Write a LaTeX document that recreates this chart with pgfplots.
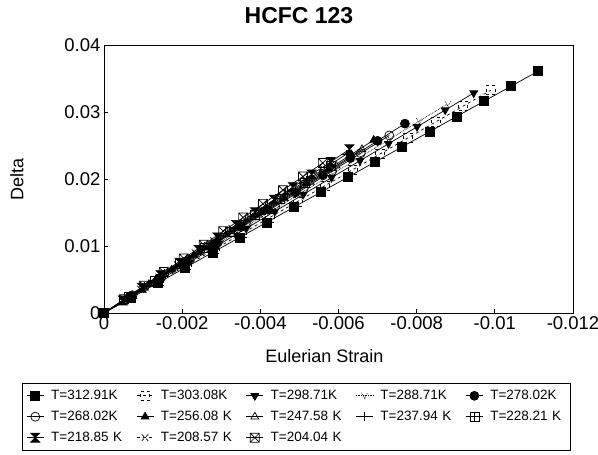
\documentclass[border=0pt]{standalone}
\usepackage{fontspec}
\setmainfont{Liberation Sans}
\usepackage{pgfplots}
\pgfplotsset{compat=1.18}

% extra marks for the legend symbols
\pgfdeclareplotmark{hourglass}{%
  \pgfpathmoveto{\pgfqpoint{-\pgfplotmarksize}{\pgfplotmarksize}}%
  \pgfpathlineto{\pgfqpoint{\pgfplotmarksize}{\pgfplotmarksize}}%
  \pgfpathlineto{\pgfqpoint{-\pgfplotmarksize}{-\pgfplotmarksize}}%
  \pgfpathlineto{\pgfqpoint{\pgfplotmarksize}{-\pgfplotmarksize}}%
  \pgfpathclose\pgfusepathqfillstroke}
\pgfdeclareplotmark{boxplus}{%
  \pgfpathrectangle{\pgfqpoint{-\pgfplotmarksize}{-\pgfplotmarksize}}{\pgfqpoint{2\pgfplotmarksize}{2\pgfplotmarksize}}%
  \pgfpathmoveto{\pgfqpoint{-\pgfplotmarksize}{0pt}}\pgfpathlineto{\pgfqpoint{\pgfplotmarksize}{0pt}}%
  \pgfpathmoveto{\pgfqpoint{0pt}{-\pgfplotmarksize}}\pgfpathlineto{\pgfqpoint{0pt}{\pgfplotmarksize}}%
  \pgfusepathqstroke}
\pgfdeclareplotmark{boxtimes}{%
  \pgfpathrectangle{\pgfqpoint{-\pgfplotmarksize}{-\pgfplotmarksize}}{\pgfqpoint{2\pgfplotmarksize}{2\pgfplotmarksize}}%
  \pgfpathmoveto{\pgfqpoint{-\pgfplotmarksize}{-\pgfplotmarksize}}\pgfpathlineto{\pgfqpoint{\pgfplotmarksize}{\pgfplotmarksize}}%
  \pgfpathmoveto{\pgfqpoint{-\pgfplotmarksize}{\pgfplotmarksize}}\pgfpathlineto{\pgfqpoint{\pgfplotmarksize}{-\pgfplotmarksize}}%
  \pgfusepathqstroke}
\pgfdeclareplotmark{vee}{%
  \pgfpathmoveto{\pgfqpoint{-\pgfplotmarksize}{\pgfplotmarksize}}%
  \pgfpathlineto{\pgfqpoint{0pt}{-\pgfplotmarksize}}%
  \pgfpathlineto{\pgfqpoint{\pgfplotmarksize}{\pgfplotmarksize}}%
  \pgfusepathqstroke}

\begin{document}
\begin{tikzpicture}[x=1pt,y=1pt]
\useasboundingbox (0,0) rectangle (598,455);
\node[font=\fontsize{23}{26}\selectfont\bfseries] at (299,439) {HCFC 123};
\begin{axis}[
  at={(104pt,142pt)}, anchor=south west,
  scale only axis, width=469pt, height=268pt,
  x dir=reverse,
  xmin=-0.012, xmax=0, ymin=0, ymax=0.04,
  scaled ticks=false,
  xtick={0,-0.002,-0.004,-0.006,-0.008,-0.01,-0.012},
  xticklabels={0,-0.002,-0.004,-0.006,-0.008,-0.01,-0.012},
  ytick={0,0.01,0.02,0.03,0.04},
  yticklabels={0,0.01,0.02,0.03,0.04},
  tick align=inside, major tick length=4pt,
  xtick pos=lower, ytick pos=lower,
  tick style={black, line width=0.8pt},
  axis line style={line width=0.9pt},
  ticklabel style={font=\fontsize{18.5}{20}\selectfont},
  label style={font=\fontsize{18}{20}\selectfont},
  xlabel={Eulerian Strain}, ylabel={Delta},
  xlabel style={at={(axis description cs:0.47,-0.16)}, anchor=center},
  ylabel style={at={(axis description cs:-0.1855,0.5)}, anchor=center},
  every axis plot/.append style={black, line width=0.7pt, mark size=4.5pt},
  legend columns=5,
  legend style={at={(axis description cs:-0.1748,-0.261)}, anchor=north west,
    draw=black, line width=0.8pt, font=\fontsize{13.5}{16}\selectfont,
    /tikz/every odd column/.append style={column sep=5pt},
    /tikz/every even column/.append style={column sep=9pt, text width=74pt},
    row sep=6pt, inner xsep=4pt, inner ysep=5pt},
  legend cell align=left,
]
% T=312.91K
\addplot[mark=square*] coordinates {
(0,0) (-0.00069,0.00224) (-0.00139,0.00452) (-0.00208,0.00676) (-0.00278,0.00904)
(-0.00347,0.01128) (-0.00416,0.01352) (-0.00486,0.01580) (-0.00555,0.01804)
(-0.00625,0.02031) (-0.00694,0.02256) (-0.00763,0.02480) (-0.00833,0.02707)
(-0.00902,0.02932) (-0.00972,0.03159) (-0.01041,0.03383) (-0.01110,0.03608)};
\addlegendentry{T=312.91K}
% T=303.08K
\addplot[dashed, mark=square] coordinates {
(0,0) (-0.00071,0.00238) (-0.00141,0.00474) (-0.00212,0.00712) (-0.00283,0.00951)
(-0.00354,0.01189) (-0.00424,0.01425) (-0.00495,0.01663) (-0.00566,0.01902)
(-0.00636,0.02137) (-0.00707,0.02376) (-0.00778,0.02614) (-0.00849,0.02853)
(-0.00919,0.03088) (-0.00990,0.03326)};
\addlegendentry{T=303.08K}
% T=298.71K
\addplot[mark=triangle*, mark options={rotate=180}] coordinates {
(0,0) (-0.00073,0.00253) (-0.00146,0.00507) (-0.00218,0.00756) (-0.00291,0.01010)
(-0.00364,0.01263) (-0.00437,0.01516) (-0.00510,0.01770) (-0.00582,0.02020)
(-0.00655,0.02273) (-0.00728,0.02526) (-0.00801,0.02779) (-0.00873,0.03029)
(-0.00946,0.03283)};
\addlegendentry{T=298.71K}
% T=288.71K
\addplot[densely dotted, mark=vee, mark size=3pt] coordinates {
(0,0) (-0.00073,0.00259) (-0.00147,0.00522) (-0.00220,0.00781) (-0.00293,0.01040)
(-0.00367,0.01303) (-0.00440,0.01562) (-0.00513,0.01821) (-0.00587,0.02084)
(-0.00660,0.02343) (-0.00733,0.02602) (-0.00807,0.02865) (-0.00880,0.03124)};
\addlegendentry{T=288.71K}
% T=278.02K
\addplot[mark=*] coordinates {
(0,0) (-0.00070,0.00257) (-0.00140,0.00514) (-0.00210,0.00771) (-0.00280,0.01028)
(-0.00350,0.01285) (-0.00420,0.01541) (-0.00490,0.01798) (-0.00560,0.02055)
(-0.00630,0.02312) (-0.00700,0.02569) (-0.00770,0.02826)};
\addlegendentry{T=278.02K}
% T=268.02K
\addplot[mark=o] coordinates {
(0,0) (-0.00073,0.00265) (-0.00146,0.00530) (-0.00219,0.00795) (-0.00292,0.01060)
(-0.00365,0.01325) (-0.00438,0.01590) (-0.00511,0.01855) (-0.00584,0.02120)
(-0.00657,0.02385) (-0.00730,0.02650)};
\addlegendentry{T=268.02K}
% T=256.08 K
\addplot[mark=triangle*] coordinates {
(0,0) (-0.00058,0.00215) (-0.00115,0.00430) (-0.00173,0.00645) (-0.00230,0.00860)
(-0.00288,0.01075) (-0.00345,0.01290) (-0.00403,0.01505) (-0.00460,0.01720)
(-0.00518,0.01935) (-0.00575,0.02150) (-0.00633,0.02366) (-0.00690,0.02581)};
\addlegendentry{T=256.08 K}
% T=247.58 K
\addplot[mark=triangle] coordinates {
(0,0) (-0.00066,0.00244) (-0.00132,0.00488) (-0.00198,0.00733) (-0.00264,0.00977)
(-0.00330,0.01221) (-0.00396,0.01465) (-0.00462,0.01709) (-0.00528,0.01954)
(-0.00594,0.02198) (-0.00660,0.02442)};
\addlegendentry{T=247.58 K}
% T=237.94 K
\addplot[mark=+] coordinates {
(0,0) (-0.00052,0.00198) (-0.00103,0.00395) (-0.00155,0.00593) (-0.00207,0.00790)
(-0.00258,0.00988) (-0.00310,0.01185) (-0.00362,0.01383) (-0.00413,0.01580)
(-0.00465,0.01778) (-0.00517,0.01975) (-0.00568,0.02173) (-0.00620,0.02370)};
\addlegendentry{T=237.94 K}
% T=228.21 K
\addplot[mark=boxplus] coordinates {
(0,0) (-0.00064,0.00243) (-0.00129,0.00487) (-0.00193,0.00730) (-0.00258,0.00974)
(-0.00322,0.01217) (-0.00387,0.01461) (-0.00451,0.01704) (-0.00515,0.01948)
(-0.00580,0.02192)};
\addlegendentry{T=228.21 K}
% T=218.85 K
\addplot[mark=hourglass] coordinates {
(0,0) (-0.00048,0.00188) (-0.00097,0.00376) (-0.00145,0.00564) (-0.00193,0.00752)
(-0.00242,0.00940) (-0.00290,0.01127) (-0.00338,0.01315) (-0.00386,0.01503)
(-0.00435,0.01691) (-0.00483,0.01879) (-0.00531,0.02067) (-0.00580,0.02255)
(-0.00628,0.02443)};
\addlegendentry{T=218.85 K}
% T=208.57 K
\addplot[dashed, mark=x] coordinates {
(0,0) (-0.00047,0.00180) (-0.00093,0.00360) (-0.00140,0.00540) (-0.00187,0.00721)
(-0.00233,0.00901) (-0.00280,0.01081) (-0.00327,0.01261) (-0.00373,0.01441)
(-0.00420,0.01621) (-0.00467,0.01801) (-0.00513,0.01982) (-0.00560,0.02162)};
\addlegendentry{T=208.57 K}
% T=204.04 K
\addplot[mark=boxtimes] coordinates {
(0,0) (-0.00051,0.00204) (-0.00102,0.00407) (-0.00153,0.00611) (-0.00204,0.00814)
(-0.00255,0.01018) (-0.00305,0.01222) (-0.00356,0.01425) (-0.00407,0.01629)
(-0.00458,0.01833) (-0.00509,0.02036) (-0.00560,0.02240)};
\addlegendentry{T=204.04 K}
\end{axis}
\end{tikzpicture}
\end{document}
